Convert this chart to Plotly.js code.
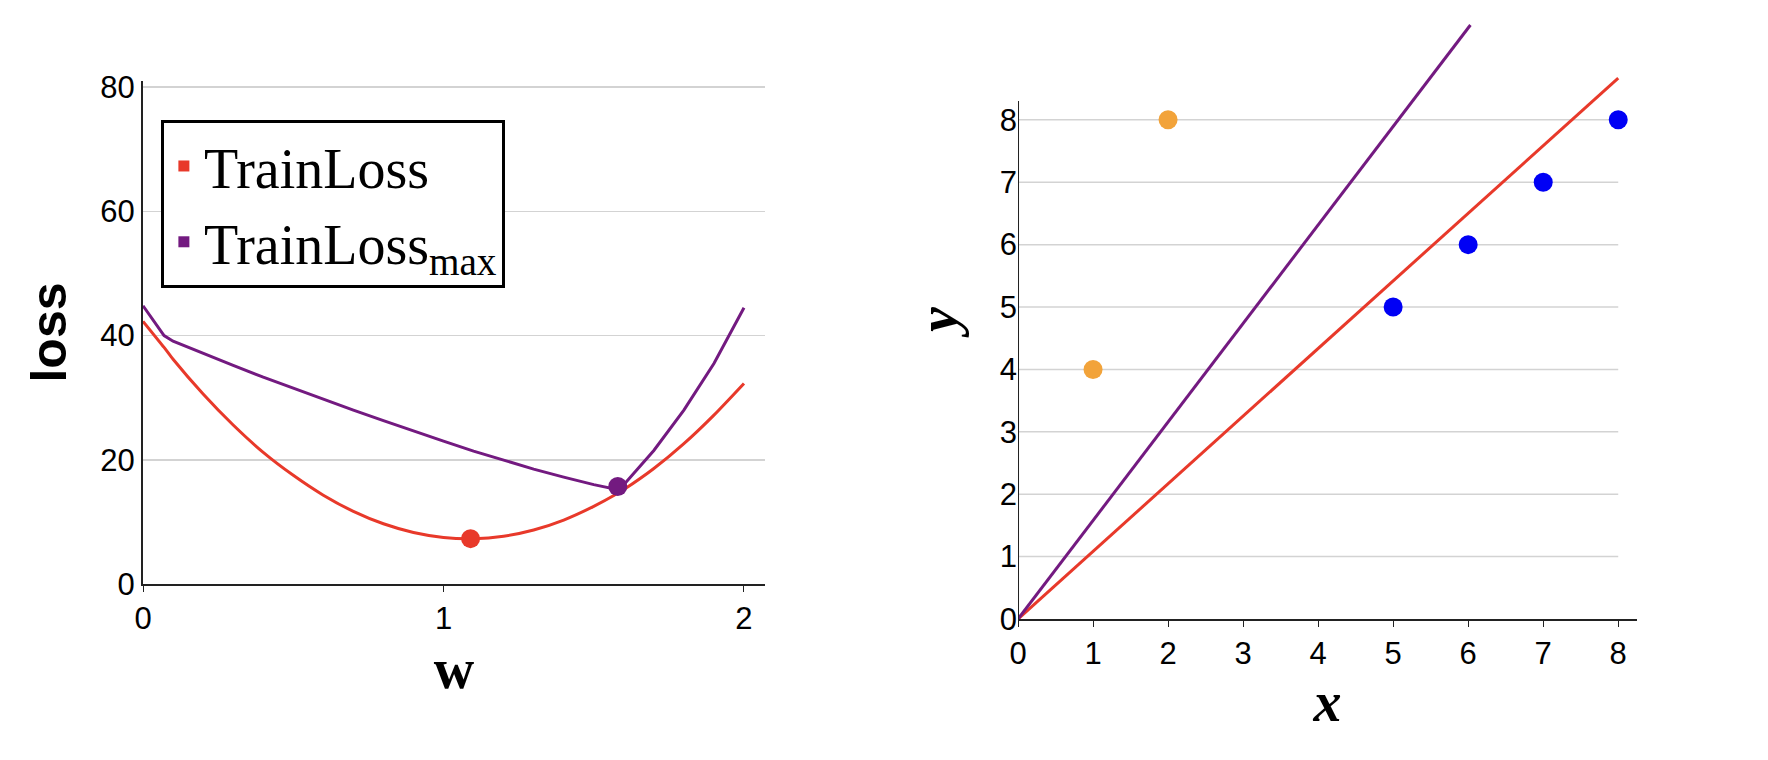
<!DOCTYPE html>
<html>
<head>
<meta charset="utf-8">
<script src="https://cdn.plot.ly/plotly-3.0.1.min.js"></script>
<style>body{margin:0;background:#fff}#plot{width:1768px;height:760px}</style>
</head>
<body>
<div id="plot"></div>
<script>
// left panel: loss curves over w
var wVals = [0, 0.07, 0.1, 0.2, 0.3, 0.4, 0.5, 0.6, 0.7, 0.8, 0.9, 1.0, 1.1, 1.2, 1.3, 1.4, 1.5, 1.58, 1.6, 1.7, 1.8, 1.9, 2.0];
var trainLoss = [42.3, 38.1, 36.2, 30.6, 25.6, 21.2, 17.5, 14.3, 11.7, 9.7, 8.3, 7.5, 7.3, 7.7, 8.7, 10.3, 12.5, 14.6, 15.2, 18.6, 22.6, 27.2, 32.3];
var trainLossMax = [44.8, 40.0, 39.1, 37.1, 35.2, 33.3, 31.5, 29.8, 28.0, 26.3, 24.6, 23.0, 21.4, 19.9, 18.5, 17.2, 16.0, 15.2, 16.0, 21.5, 28.0, 35.5, 44.5];
var minPoint = {w: [1.09], loss: [7.3]};
var maxPoint = {w: [1.58], loss: [15.7]};

// right panel: data points and fitted lines
var orangeX = [1, 2], orangeY = [4, 8];
var blueX = [5, 6, 7, 8], blueY = [5, 6, 7, 8];
var redLineX = [0, 8], redLineY = [0, 8.67];
var purpleLineX = [0, 6.03], purpleLineY = [0, 9.52];
var rightTicks = [0, 1, 2, 3, 4, 5, 6, 7, 8];
var leftTicks = [0, 20, 40, 60, 80];

var RED = '#e8392a', PURPLE = '#731a80', ORANGE = '#f2a33a', BLUE = '#0000f5';

var data = [
  {x: wVals, y: trainLoss, mode: 'lines', line: {color: RED, width: 3, shape: 'spline', smoothing: 0.6}, showlegend: false, xaxis: 'x', yaxis: 'y'},
  {x: wVals, y: trainLossMax, mode: 'lines', line: {color: PURPLE, width: 3}, showlegend: false, xaxis: 'x', yaxis: 'y'},
  {x: minPoint.w, y: minPoint.loss, mode: 'markers', marker: {color: RED, size: 19}, showlegend: false, cliponaxis: false},
  {x: maxPoint.w, y: maxPoint.loss, mode: 'markers', marker: {color: PURPLE, size: 19}, showlegend: false, cliponaxis: false},
  // legend-only entries
  {x: [null], y: [null], mode: 'markers', marker: {color: RED, symbol: 'square', size: 11}, name: 'TrainLoss'},
  {x: [null], y: [null], mode: 'markers', marker: {color: PURPLE, symbol: 'square', size: 11}, name: 'TrainLoss<sub>max</sub>'},

  {x: redLineX, y: redLineY, mode: 'lines', line: {color: RED, width: 3}, showlegend: false, xaxis: 'x2', yaxis: 'y2'},
  {x: purpleLineX, y: purpleLineY, mode: 'lines', line: {color: PURPLE, width: 3}, showlegend: false, xaxis: 'x2', yaxis: 'y2'},
  {x: orangeX, y: orangeY, mode: 'markers', marker: {color: ORANGE, size: 19}, showlegend: false, xaxis: 'x2', yaxis: 'y2', cliponaxis: false},
  {x: blueX, y: blueY, mode: 'markers', marker: {color: BLUE, size: 19}, showlegend: false, xaxis: 'x2', yaxis: 'y2', cliponaxis: false}
];

// gridlines and y-axis line for right panel only up to x = 8 / y = 8.3
var shapes = [];
rightTicks.slice(1).forEach((t) => {
  shapes.push({type: 'line', xref: 'x2', yref: 'y2', x0: 0, x1: 8, y0: t, y1: t, line: {color: '#d3d3d3', width: 1.5}, layer: 'below'});
});
shapes.push({type: 'line', xref: 'x2', yref: 'y2', x0: 0, x1: 0, y0: 0, y1: 8.3, line: {color: '#222', width: 2}});

var tickFont = {family: 'Liberation Sans, Arial', size: 31, color: '#000'};

var layout = {
  width: 1768, height: 760,
  margin: {l: 0, r: 0, t: 0, b: 0},
  paper_bgcolor: '#fff', plot_bgcolor: '#fff',
  showlegend: true,
  legend: {
    x: 0.091, y: 0.842, xanchor: 'left', yanchor: 'top',
    bordercolor: '#000', borderwidth: 3, bgcolor: '#fff',
    font: {family: 'Liberation Serif, DejaVu Serif, serif', size: 56, color: '#000'},
    itemwidth: 30, tracegroupgap: 0
  },
  xaxis: {
    domain: [0.0809, 0.4327], range: [0, 2.07], tickvals: [0, 1, 2],
    showgrid: false, zeroline: false, showline: true, linecolor: '#222', linewidth: 2,
    ticks: 'outside', ticklen: 6, tickcolor: '#222', tickfont: tickFont,
    title: {text: '<b>w</b>', font: {family: 'Liberation Serif, serif', size: 56, color: '#000'}, standoff: 14}
  },
  yaxis: {
    domain: [0.2316, 0.8934], range: [0, 81], tickvals: leftTicks,
    showgrid: true, gridcolor: '#d3d3d3', gridwidth: 1.5, zeroline: false,
    showline: true, linecolor: '#222', linewidth: 2, ticks: '', tickfont: tickFont,
    title: {text: '<b>loss</b>', font: {family: 'Liberation Sans, Arial', size: 50, color: '#000'}, standoff: 18}
  },
  xaxis2: {
    anchor: 'y2', domain: [0.5758, 0.9259], range: [0, 8.25], tickvals: rightTicks,
    showgrid: false, zeroline: false, showline: true, linecolor: '#222', linewidth: 2,
    ticks: 'outside', ticklen: 6, tickcolor: '#222', tickfont: tickFont,
    title: {text: '<i><b>x</b></i>', font: {family: 'Liberation Serif, serif', size: 56, color: '#000'}, standoff: 10}
  },
  yaxis2: {
    anchor: 'x2', domain: [0.1855, 0.9737], range: [0, 9.6], tickvals: rightTicks,
    showgrid: false, zeroline: false, showline: false, ticks: '', tickfont: tickFont,
    title: {text: '<i><b>y</b></i>', font: {family: 'Liberation Serif, serif', size: 56, color: '#000'}, standoff: 24}
  },
  shapes: shapes
};

Plotly.newPlot('plot', data, layout, {displayModeBar: false, staticPlot: true});
</script>
</body>
</html>
